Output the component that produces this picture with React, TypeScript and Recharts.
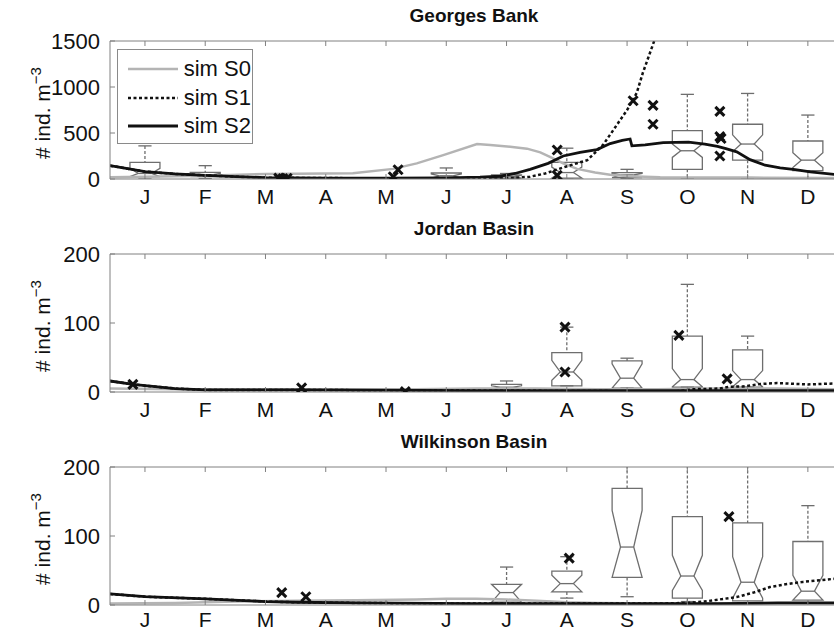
import React from "react";
import {
  ComposedChart,
  Bar,
  Line,
  Scatter,
  XAxis,
  YAxis,
  Legend,
  Label,
} from "recharts";

const FONT = '"Liberation Sans", Arial, Helvetica, sans-serif';
const AXIS = "#808080";
const BOX = "#6e6e6e";
const BOX_W = 30;

const MONTHS = ["J", "F", "M", "A", "M", "J", "J", "A", "S", "O", "N", "D"];
const MONTH_TICKS = [0.5, 1.5, 2.5, 3.5, 4.5, 5.5, 6.5, 7.5, 8.5, 9.5, 10.5, 11.5];
const X_DOMAIN = [-0.08, 12];

// [month, value]
const GB_S0: [number, number][] = [
  [-0.08, 20], [0.5, 25], [1.5, 35], [2.5, 55], [3.5, 60], [3.95, 62], [4.62, 110],
  [5.01, 170], [5.45, 260], [6.01, 380], [6.23, 370], [6.56, 350], [6.84, 330],
  [7.06, 290], [7.22, 240], [7.44, 170], [7.67, 110], [7.97, 70], [8.22, 45],
  [8.55, 30], [9.05, 20], [10.54, 15], [12, 10],
];
const GB_S1: [number, number][] = [
  [-0.08, 145], [0.5, 80], [1.0, 55], [1.5, 40], [2.0, 25], [2.5, 15], [3.5, 10],
  [4.5, 8], [5.5, 6], [6.2, 6], [6.64, 12], [6.89, 25], [7.14, 60], [7.44, 125],
  [7.84, 205], [8.1, 370], [8.27, 530], [8.5, 750], [8.66, 935], [8.76, 1150],
  [8.95, 1500], [9.2, 2200], [9.5, 3200],
];
const GB_S2: [number, number][] = [
  [-0.08, 145], [0.5, 80], [1.0, 55], [1.5, 40], [2.0, 25], [2.5, 15], [3.5, 10],
  [4.5, 10], [5.5, 12], [6.06, 20], [6.39, 30], [6.64, 60], [6.89, 105], [7.19, 170],
  [7.44, 250], [7.72, 290], [8.0, 320], [8.22, 385], [8.42, 420], [8.55, 435],
  [8.58, 360], [8.8, 370], [9.1, 395], [9.52, 400], [9.79, 380], [10.0, 355],
  [10.14, 330], [10.32, 295], [10.54, 210], [10.79, 150], [11.04, 122], [11.29, 102],
  [11.54, 78], [11.94, 50], [12, 48],
];
// [month, whiskerLow, q1, notchLow, median, notchHigh, q3, whiskerHigh]
const GB_BOXES: number[][] = [
  [0.5, 0, 25, 25, 60, 115, 180, 360],
  [1.5, 5, 25, 25, 45, 60, 72, 145],
  [5.5, 5, 10, 10, 35, 55, 65, 120],
  [6.5, 3, 8, 8, 25, 40, 45, 60],
  [7.5, 0, 10, 10, 70, 130, 180, 335],
  [8.5, 5, 15, 15, 45, 60, 70, 105],
  [9.5, 0, 105, 235, 307, 380, 525, 920],
  [10.5, 0, 205, 297, 380, 480, 595, 930],
  [11.5, 0, 90, 125, 205, 285, 413, 695],
];
const GB_OBS: [number, number][] = [
  [2.72, 10], [2.79, 4], [2.86, 8], [4.62, 25], [4.7, 100], [7.34, 315], [7.34, 40],
  [8.6, 850], [8.93, 800], [8.93, 595], [10.04, 735], [10.04, 460], [10.06, 440],
  [10.04, 250],
];

const JB_S0: [number, number][] = [
  [-0.08, 5], [1, 4], [3, 4], [5, 4], [6, 5], [7, 5], [8, 4], [9, 4], [10, 5], [11, 5], [12, 4],
];
const JB_S1: [number, number][] = [
  [-0.08, 16], [0.3, 11], [1, 5], [1.5, 3], [3, 3], [6, 2], [9, 1], [9.33, 1], [9.6, 4],
  [10.04, 5], [10.2, 7.6], [10.42, 8], [10.71, 11.5], [10.99, 13], [11.5, 11], [12, 12.5],
];
const JB_S2: [number, number][] = [
  [-0.08, 16], [0.3, 11], [1, 5], [1.5, 3], [3, 3], [6, 2], [9, 2], [12, 2],
];
const JB_BOXES: number[][] = [
  [6.5, 3, 4, 4, 7, 9, 11, 16],
  [7.5, 9, 9, 17, 29, 46, 57, 94],
  [8.5, 5.5, 5.5, 5.5, 20, 41, 45, 49],
  [9.5, 7, 7, 7.6, 18, 34, 81, 156],
  [10.5, 7, 7, 7.6, 18, 31, 61, 81],
];
const JB_OBS: [number, number][] = [
  [0.3, 11], [3.1, 6], [4.82, 0.5], [7.47, 94], [7.47, 29], [9.36, 82], [10.16, 19],
];

const WB_S0: [number, number][] = [
  [-0.08, 2], [1, 3], [2, 5], [3, 6], [4, 7], [5, 8], [5.5, 9], [6, 9], [6.5, 8],
  [7, 6], [7.5, 4], [8, 3], [9, 2], [12, 2],
];
const WB_S1: [number, number][] = [
  [-0.08, 16], [0.5, 12], [1.5, 9], [2.5, 5], [3, 4], [4, 3], [6, 2], [9, 2], [9.5, 3],
  [9.78, 5], [10.32, 11.5], [10.6, 18], [10.87, 26], [11.13, 30], [11.42, 33.5],
  [11.94, 38], [12, 38],
];
const WB_S2: [number, number][] = [
  [-0.08, 16], [0.5, 12], [1.5, 9], [2.5, 5], [3, 4], [4, 3], [6, 2], [9, 2], [10, 2],
  [11, 3], [12, 3],
];
const WB_BOXES: number[][] = [
  [6.5, 0, 4, 4, 18, 30, 30, 55],
  [7.5, 10, 19, 19, 31, 43, 49, 70],
  [8.5, 12, 40, 40, 84, 137, 169, 260],
  [9.5, 5, 10, 21, 42, 72, 128, 260],
  [10.5, 3, 6, 10, 33, 70, 119, 260],
  [11.5, 3, 7, 7, 20, 43, 92, 144],
];
const WB_OBS: [number, number][] = [[2.77, 18], [3.17, 12], [7.54, 68], [10.19, 128]];

const SERIES = [
  { name: "sim S0", stroke: "#b4b4b4", dash: undefined as string | undefined, width: 2.5 },
  { name: "sim S1", stroke: "#111", dash: "3 2.5", width: 2.5 },
  { name: "sim S2", stroke: "#111", dash: undefined as string | undefined, width: 2.8 },
];

const toPts = (arr: [number, number][]) => arr.map(([m, v]) => ({ m, v }));
const toBoxes = (arr: number[][]) =>
  arr.map(([m, wlo, q1, nlo, med, nhi, q3, whi]) => ({ m, wlo, q1, nlo, med, nhi, q3, whi }));
const boxRange = (d: any) => [d.wlo, d.whi];

// notched box drawn from the bar's whisker range (y/height come from the y scale)
function BoxShape(props: any) {
  const { x, y, width, height, payload } = props;
  const { wlo, whi, q1, nlo, med, nhi, q3 } = payload;
  const py = (v: number) => y + ((whi - v) / (whi - wlo)) * height;
  const c = x + width / 2;
  const l = c - BOX_W / 2;
  const r = c + BOX_W / 2;
  const inset = BOX_W * 0.28;
  const cap = BOX_W * 0.22;
  const poly = [
    [l, py(q3)], [r, py(q3)], [r, py(nhi)], [r - inset, py(med)], [r, py(nlo)],
    [r, py(q1)], [l, py(q1)], [l, py(nlo)], [l + inset, py(med)], [l, py(nhi)],
  ]
    .map((p) => p.join(","))
    .join(" ");
  return (
    <g>
      <line x1={c} x2={c} y1={py(whi)} y2={py(q3)} stroke={BOX} strokeWidth={1.3} strokeDasharray="3 2" />
      <line x1={c} x2={c} y1={py(q1)} y2={py(wlo)} stroke={BOX} strokeWidth={1.3} strokeDasharray="3 2" />
      <line x1={c - cap} x2={c + cap} y1={py(whi)} y2={py(whi)} stroke={BOX} strokeWidth={1.3} />
      <line x1={c - cap} x2={c + cap} y1={py(wlo)} y2={py(wlo)} stroke={BOX} strokeWidth={1.3} />
      <polygon points={poly} fill="none" stroke={BOX} strokeWidth={1.3} />
      <line x1={l + inset} x2={r - inset} y1={py(med)} y2={py(med)} stroke={BOX} strokeWidth={1.3} />
    </g>
  );
}

function XMark(props: any) {
  const { cx, cy } = props;
  const s = 4.5;
  return (
    <g stroke="#111" strokeWidth={3} strokeLinecap="butt">
      <line x1={cx - s} y1={cy - s} x2={cx + s} y2={cy + s} />
      <line x1={cx - s} y1={cy + s} x2={cx + s} y2={cy - s} />
    </g>
  );
}

function renderYLabel(props: any) {
  const vb = props.viewBox || { x: 0, y: 41, width: 110, height: 138 };
  const cx = vb.x + 50;
  const cy = vb.y + vb.height / 2 + 3;
  return (
    <text
      x={cx}
      y={cy}
      transform={`rotate(-90 ${cx} ${cy})`}
      textAnchor="middle"
      fontSize={21}
      fontFamily={FONT}
      fill="#111"
    >
      # ind. m<tspan dy={-9} fontSize={15}>−3</tspan>
    </text>
  );
}

function renderLegend() {
  return (
    <div
      style={{
        width: 134,
        height: 88,
        border: "1px solid #8a8a8a",
        background: "#fff",
        fontFamily: FONT,
        fontSize: 22,
        color: "#111",
        paddingTop: 5,
        boxSizing: "content-box",
      }}
    >
      {SERIES.map((s) => (
        <div key={s.name} style={{ display: "flex", alignItems: "center", height: 28.5 }}>
          <svg width={66} height={10} style={{ flex: "none" }}>
            <line
              x1={10}
              x2={60}
              y1={5}
              y2={5}
              stroke={s.stroke}
              strokeWidth={s.width}
              strokeDasharray={s.dash}
            />
          </svg>
          <span style={{ lineHeight: "28.5px" }}>{s.name}</span>
        </div>
      ))}
    </div>
  );
}

interface PanelProps {
  title: string;
  yMax: number;
  yTicks: number[];
  s0: [number, number][];
  s1: [number, number][];
  s2: [number, number][];
  boxes: number[][];
  obs: [number, number][];
  legend?: boolean;
  labelGap?: number;
}

function Panel({ title, yMax, yTicks, s0, s1, s2, boxes, obs, legend, labelGap = 15 }: PanelProps) {
  const lines = [s0, s1, s2];
  return (
    <ComposedChart
      width={838}
      height={213}
      data={toBoxes(boxes)}
      margin={{ top: 40, right: 0, bottom: 4, left: 0 }}
    >
      <XAxis
        xAxisId="top"
        orientation="top"
        type="number"
        dataKey="m"
        domain={X_DOMAIN}
        allowDataOverflow
        ticks={MONTH_TICKS}
        tickSize={-5}
        tickFormatter={() => ""}
        height={1}
        stroke={AXIS}
      >
        <Label
          value={title}
          position="top"
          offset={18}
          style={{ fontSize: 19, fontWeight: "bold", fontFamily: FONT, fill: "#111" }}
        />
      </XAxis>
      <XAxis
        type="number"
        dataKey="m"
        domain={X_DOMAIN}
        allowDataOverflow
        ticks={MONTH_TICKS}
        tickFormatter={(v: number) => MONTHS[Math.round(v - 0.5)]}
        tickSize={-5}
        tickMargin={labelGap}
        height={30}
        stroke={AXIS}
        tick={{ fontSize: 21, fill: "#111", fontFamily: FONT }}
      />
      <YAxis
        type="number"
        dataKey="v"
        domain={[0, yMax]}
        allowDataOverflow
        ticks={yTicks}
        tickSize={-5}
        tickMargin={15}
        width={110}
        stroke={AXIS}
        tick={{ fontSize: 22, fill: "#111", fontFamily: FONT }}
      >
        <Label content={renderYLabel} />
      </YAxis>
      <Bar dataKey={boxRange} shape={BoxShape} isAnimationActive={false} />
      {lines.map((d, i) => (
        <Line
          key={SERIES[i].name}
          name={SERIES[i].name}
          data={toPts(d)}
          dataKey="v"
          type="linear"
          stroke={SERIES[i].stroke}
          strokeWidth={SERIES[i].width}
          strokeDasharray={SERIES[i].dash}
          dot={false}
          activeDot={false}
          isAnimationActive={false}
        />
      ))}
      <Scatter data={toPts(obs)} dataKey="v" shape={XMark} isAnimationActive={false} />
      {legend && (
        <Legend
          layout="vertical"
          align="center"
          verticalAlign="middle"
          wrapperStyle={{ left: 116.7, top: 49, width: 136, height: 94 }}
          content={renderLegend}
        />
      )}
    </ComposedChart>
  );
}

export default function App() {
  return (
    <div
      style={{
        position: "absolute",
        left: 0,
        top: 0,
        width: 834,
        height: 636,
        overflow: "hidden",
        background: "#fff",
      }}
    >
      <Panel
        title="Georges Bank"
        yMax={1500}
        yTicks={[0, 500, 1000, 1500]}
        s0={GB_S0}
        s1={GB_S1}
        s2={GB_S2}
        boxes={GB_BOXES}
        obs={GB_OBS}
        legend
      />
      <Panel
        title="Jordan Basin"
        yMax={200}
        yTicks={[0, 100, 200]}
        s0={JB_S0}
        s1={JB_S1}
        s2={JB_S2}
        boxes={JB_BOXES}
        obs={JB_OBS}
      />
      <Panel
        title="Wilkinson Basin"
        yMax={200}
        yTicks={[0, 100, 200]}
        s0={WB_S0}
        s1={WB_S1}
        s2={WB_S2}
        boxes={WB_BOXES}
        obs={WB_OBS}
        labelGap={12}
      />
    </div>
  );
}
